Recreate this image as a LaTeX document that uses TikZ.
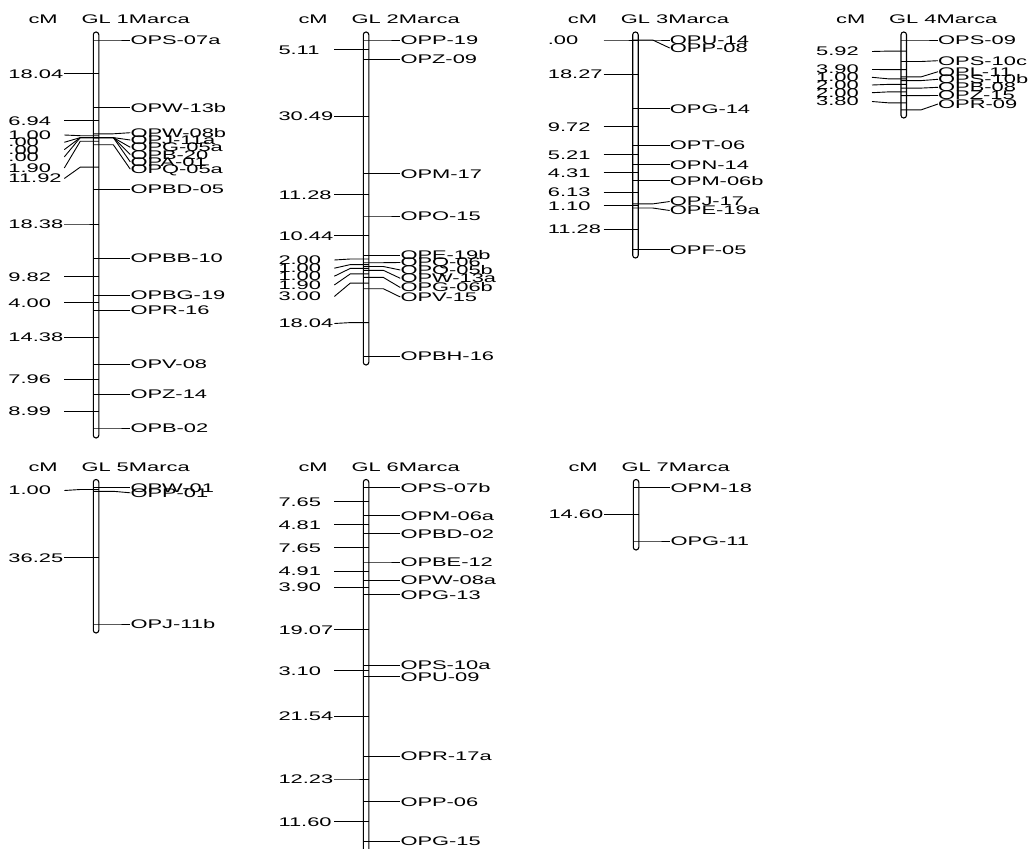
\documentclass[tikz,border=0pt]{standalone}
\usepackage{fontspec}
\setmainfont{Liberation Sans}[FakeStretch=1.75]
\tikzset{
  ln/.style={line width=0.9pt},
  barst/.style={line width=1.1pt, rounded corners=2.7pt, fill=white},
  mk/.style={anchor=west, inner sep=0pt, text height=8.95pt, text depth=0pt, font=\fontsize{12.5}{14}\selectfont},
  lb/.style={mk},
  hdr/.style={mk}
}
% #1 group number, #2 bar left x, #3 header y, #4 bar top, #5 bar bottom, #6 markers, #7 distances
\newcommand\linkgroup[7]{%
  \draw[barst] (#2,#4) rectangle (#2+5.5,#5);
  \node[hdr] (g#1cm) at (#2-65,#3) {cM};
  \node[hdr] (g#1gl) at (#2-12,#3) {GL #1Marca};
  \foreach \ty/\ly/\tx [count=\i] in {#6}{%
    \coordinate (g#1b\i) at (#2,\ty);
    \coordinate (g#1k\i) at (#2+20,\ty);
    \node[mk] (g#1r\i) at (#2+37,\ly) {\tx};
    \draw[ln] (g#1b\i) -- (g#1k\i) -- (g#1r\i.west);
  }
  \foreach \ty/\ly/\tx [count=\i] in {#7}{%
    \node[lb] (g#1l\i) at (#2-85,\ly) {\tx};
    \coordinate (g#1s\i) at (#2-29,\ly);
    \coordinate (g#1f\i) at (#2-13,\ty);
    \coordinate (g#1e\i) at (#2+5.5,\ty);
    \draw[ln] (g#1s\i) -- (g#1f\i) -- (g#1e\i);
  }
}
\begin{document}
\begin{tikzpicture}[x=1pt,y=-1pt]
\useasboundingbox[fill=white] (0,0) rectangle (1029,849);
\clip (0,0) rectangle (1029,849);
\linkgroup{1}{93.3}{19.5}{32}{438}
 {40/40/OPS-07a,107.7/107.7/OPW-13b,133.8/132.7/OPW-08b,137.6/140/OPJ-11a,137.6/147.3/OPG-05a,137.6/154.6/OPB-20,137.6/161.9/OPA-01,144.7/169.2/OPQ-05a,189.5/189.5/OPBD-05,258.5/258.5/OPBB-10,295.3/295.3/OPBG-19,310.4/310.4/OPR-16,364.4/364.4/OPV-08,394.3/394.3/OPZ-14,428/428/OPB-02}
 {73.9/73.9/18.04,120.8/120.8/6.94,135.7/135/1.00,137.6/142.3/.00,137.6/149.6/.00,137.6/156.9/.00,141.2/168/1.90,167.1/178.5/11.92,224/224/18.38,276.9/276.9/9.82,302.9/302.9/4.00,337.4/337.4/14.38,379.4/379.4/7.96,411.2/411.2/8.99}
\linkgroup{2}{363.3}{19.5}{32}{365}
 {40/40/OPP-19,59.2/59.2/OPZ-09,173.7/173.7/OPM-17,216/216/OPO-15,255.2/255.2/OPE-19b,262.7/262.5/OPQ-06,266.5/270/OPQ-05b,270.3/278.3/OPW-13a,277.4/287.5/OPG-06b,288.7/297/OPV-15,356.4/356.4/OPBH-16}
 {49.6/49.6/5.11,116.5/116.5/30.49,194.9/194.9/11.28,235.6/235.6/10.44,259/260/2.00,264.6/268.2/1.00,268.4/276.2/1.00,273.9/285/1.90,283.1/296.5/3.00,322.6/323.5/18.04}
\linkgroup{3}{632.7}{19.5}{32}{258}
 {40/40/OPU-14,40/48/OPP-08,108.6/108.6/OPG-14,145.1/145.1/OPT-06,164.7/164.7/OPN-14,180.9/180.9/OPM-06b,203.9/201.5/OPJ-17,208/210.5/OPE-19a,249.8/249.8/OPF-05}
 {40/40/.00,74.3/74.3/18.27,126.9/126.9/9.72,154.9/154.9/5.21,172.8/172.8/4.31,192.4/192.4/6.13,205.9/205.9/1.10,229.2/229.2/11.28}
\linkgroup{4}{901}{19.5}{32}{118}
 {40/40/OPS-09,61.5/60.7/OPS-10c,76.9/71.7/OPL-11,80.6/79.3/OPS-10b,88.1/87.3/OPB-08,95.6/95.5/OPZ-15,109.9/104/OPR-09}
 {51.1/51.5/5.92,69.6/69.5/3.90,78.8/77.3/1.00,84.4/85/2.00,91.9/92.7/2.00,102.8/101.5/3.80}
\linkgroup{5}{93.3}{467}{479.5}{633}
 {487.6/487.6/OPW-01,491.3/492.8/OPP-01,624/624/OPJ-11b}
 {489.5/490.5/1.00,557.7/557.7/36.25}
\linkgroup{6}{363.3}{467}{479.5}{853}
 {487.6/487.6/OPS-07b,515.9/515.9/OPM-06a,533.7/533.7/OPBD-02,562/562/OPBE-12,580.2/580.2/OPW-08a,594.6/594.6/OPG-13,665.1/665.1/OPS-10a,676.6/676.6/OPU-09,756.3/756.3/OPR-17a,801.6/801.6/OPP-06,841.5/841.5/OPG-15}
 {501.8/501.8/7.65,524.8/524.8/4.81,547.9/547.9/7.65,571.1/571.1/4.91,587.4/587.4/3.90,629.9/629.9/19.07,670.9/670.9/3.10,716.5/716.5/21.54,779/779/12.23,821.6/821.6/11.60}
\linkgroup{7}{633.3}{467}{479.5}{550}
 {487.6/487.6/OPM-18,541/541/OPG-11}
 {514.3/514.3/14.60}
\end{tikzpicture}
\end{document}
